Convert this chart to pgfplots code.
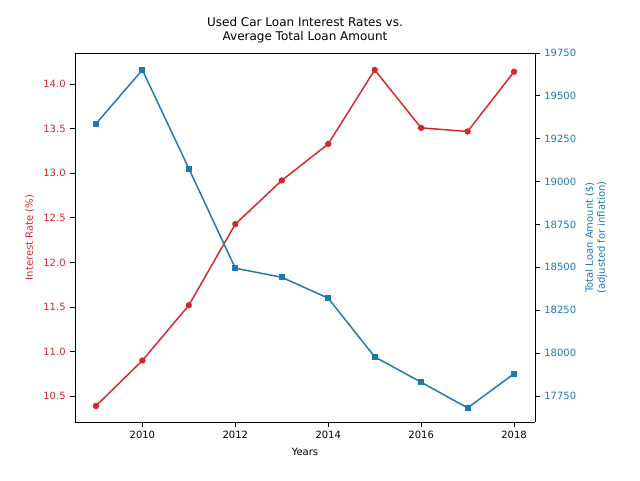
\documentclass[border=0pt]{standalone}
\usepackage{pgfplots}
\pgfplotsset{compat=1.18}
\usepackage{fontspec}
\setmainfont{DejaVu Sans}
\definecolor{mred}{HTML}{D62728}
\definecolor{mblue}{HTML}{1F77B4}
\begin{document}
\begin{tikzpicture}
\useasboundingbox (0,0) rectangle (480pt,360pt);
\pgfplotsset{every axis/.style={
  at={(56.25pt,43.5pt)}, anchor=south west, scale only axis,
  width=345pt, height=276.75pt,
  xmin=2008.55, xmax=2018.45,
  tick align=outside, tick style={black, line width=0.6pt},
  major tick length=3.5pt,
  ticklabel style={font=\fontsize{7.5}{9}\selectfont},
  /pgf/number format/assume math mode=true,
  label style={font=\fontsize{7.5}{9}\selectfont},
  xtick={2010,2012,2014,2016,2018},
  x tick label style={/pgf/number format/1000 sep={}},
  scaled ticks=false,
}}
\begin{axis}[
  axis y line*=left, axis x line*=bottom,
  ymin=10.21, ymax=14.35,
  ytick={10.5,11,11.5,12,12.5,13,13.5,14},
  yticklabel style={color=mred, /pgf/number format/fixed, /pgf/number format/fixed zerofill, /pgf/number format/precision=1},
  ylabel={Interest Rate (\%)}, ylabel style={color=mred},
  xlabel={Years},
  title={Used Car Loan Interest Rates vs.\\Average Total Loan Amount},
  title style={align=center, font=\fontsize{9}{10.5}\selectfont, yshift=-2pt},
]
\addplot[color=mred, line width=1.1pt, mark=*, mark size=1.8pt] coordinates {
(2009,10.39)(2010,10.90)(2011,11.52)(2012,12.43)(2013,12.92)(2014,13.33)(2015,14.16)(2016,13.51)(2017,13.47)(2018,14.14)};
\end{axis}
\begin{axis}[
  axis y line*=right, axis x line*=top, xticklabels={}, xtick=\empty,
  ymin=17598, ymax=19750,
  ytick={17750,18000,18250,18500,18750,19000,19250,19500,19750},
  yticklabel style={color=mblue, /pgf/number format/fixed, /pgf/number format/1000 sep={}},
  ylabel={Total Loan Amount (\$)\\(adjusted for inflation)},
  ylabel style={color=mblue, align=center},
]
\addplot[color=mblue, line width=1.1pt, mark=square*, mark size=1.7pt] coordinates {
(2009,19337)(2010,19651)(2011,19076)(2012,18495)(2013,18442)(2014,18320)(2015,17978)(2016,17830)(2017,17680)(2018,17880)};
\end{axis}
\end{tikzpicture}
\end{document}
